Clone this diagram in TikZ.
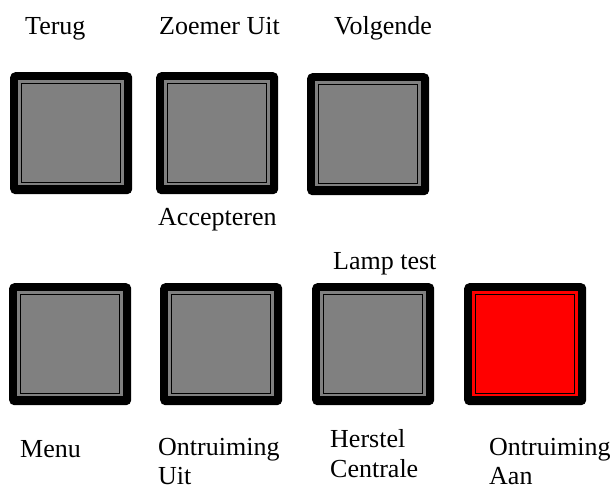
\documentclass[tikz,border=0pt]{standalone}
\usepackage{fontspec}
\setmainfont{Liberation Serif}
\definecolor{knopgrijs}{HTML}{808080}
\definecolor{knoprood}{HTML}{FF0000}
\tikzset{
  knopbuiten/.style={rectangle, fill=black, rounded corners=5pt, minimum width=122pt, minimum height=122pt, inner sep=0pt, anchor=north west},
  knoprand/.style={rectangle, minimum width=106pt, minimum height=105pt, inner sep=0pt, anchor=north west},
  knopvlak/.style={rectangle, draw=black, line width=1.4pt, minimum width=99pt, minimum height=99pt, inner sep=0pt, anchor=north west},
  label/.style={inner sep=0pt, anchor=base west, font=\fontsize{26}{29}\selectfont}
}
\newcommand\knop[4]{%
  \node[knopbuiten] (#1) at (#2,#3) {};
  \node[knoprand, fill=#4] (#1rand) at ({#2+8},{#3+8}) {};
  \node[knopvlak, fill=#4] (#1vlak) at ({#2+11},{#3+11}) {};
}
\begin{document}
\begin{tikzpicture}[x=1pt,y=-1pt]
\useasboundingbox (0,0) rectangle (614,489);
% bovenste rij
\knop{terug}{10}{72}{knopgrijs}
\knop{zoemer}{156}{72}{knopgrijs}
\knop{volgende}{307}{73}{knopgrijs}
% onderste rij
\knop{menu}{9}{283}{knopgrijs}
\knop{ontruimuit}{160}{283}{knopgrijs}
\knop{herstel}{312}{283}{knopgrijs}
\knop{ontruimaan}{464}{283}{knoprood}
% teksten
\node[label] (tTerug) at (25,35) {Terug};
\node[label] (tZoemer) at (159,35) {Zoemer Uit};
\node[label] (tVolgende) at (334,35) {Volgende};
\node[label] (tAccept) at (158,226) {Accepteren};
\node[label] (tLamp) at (333,270) {Lamp test};
\node[label] (tMenu) at (20,457) {Menu};
\node[label] (tOntr1) at (158,456) {Ontruiming};
\node[label] (tUit) at (158,485) {Uit};
\node[label] (tHerstel) at (330,448) {Herstel};
\node[label] (tCentrale) at (330,477) {Centrale};
\node[label] (tOntr2) at (489,456) {Ontruiming};
\node[label] (tAan) at (489,485) {Aan};
\end{tikzpicture}
\end{document}
